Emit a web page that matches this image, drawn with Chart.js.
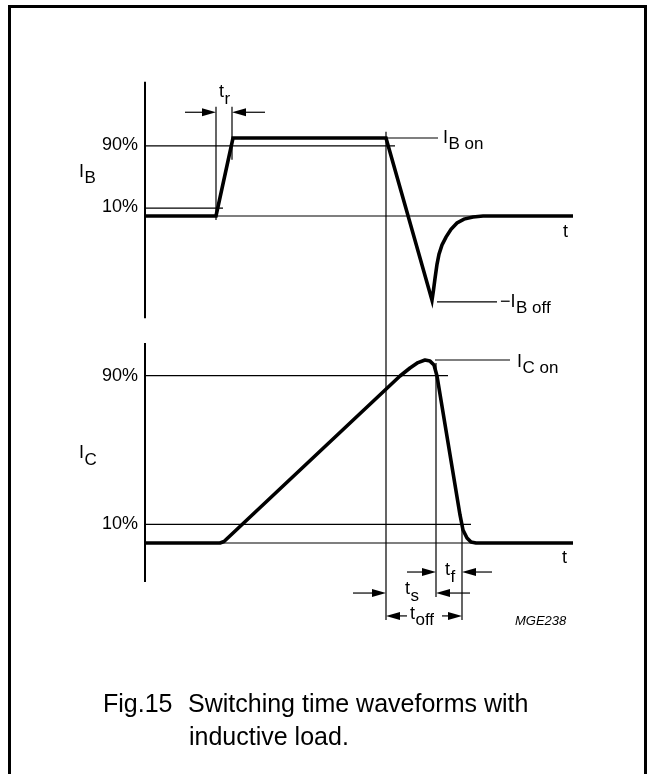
<!DOCTYPE html>
<html>
<head>
<meta charset="utf-8">
<script src="https://cdn.jsdelivr.net/npm/chart.js@4.4.1/dist/chart.umd.min.js"></script>
<style>
  body { margin: 0; background: #fff; }
  #frame { position: absolute; left: 8px; top: 5px; width: 633px; height: 800px; border: 3px solid #000; border-bottom: none; }
  #wrap { position: absolute; left: 0; top: 0; width: 648px; height: 774px; }
  #wave { display: block; }
  .cap { position: absolute; font-family: "Liberation Sans", Arial, sans-serif; font-size: 25px; line-height: 25px; color: #000; white-space: pre; }
</style>
</head>
<body>
<div id="frame"></div>
<div id="wrap"><canvas id="wave" width="648" height="774"></canvas></div>
<div class="cap" style="left:103px; top:691px;">Fig.15</div>
<div class="cap" style="left:188px; top:691px;">Switching time waveforms with</div>
<div class="cap" style="left:189px; top:724px;">inductive load.</div>
<script>
// waveforms, time in arbitrary units, level in % of the on value
var ibTime  = [0, 7.1, 8.8, 24.1, 28.7, 28.85, 29.0, 29.2, 29.4, 29.7, 30.1, 30.6, 31.2, 31.9, 32.8, 33.8, 42.8];
var ibLevel = [0, 0, 100, 100, -108, -95, -80, -62, -49, -37, -27, -17, -9, -4, -1.3, 0, 0];
var icTime  = [0, 7.5, 7.9, 25.5, 26.5, 27.3, 28.0, 28.5, 28.9, 29.2, 31.5, 31.8, 32.2, 32.6, 33.1, 42.8];
var icLevel = [0, 0, 0.8, 89.8, 94.1, 97.0, 98.4, 97.8, 95.7, 89.8, 15.1, 7.0, 2.7, 0.5, 0, 0];
var tEnd = 42.8;

// 90% / 10% reference levels and where their thin lines stop
var levelLabels = ['90%', '10%'];
var levelValues = [90, 10];
var ibLevelEnd = [25.0, 7.8];
var icLevelEnd = [30.3, 32.6];

// axis extents in %
var ibAxis = [172, -131];
var icAxis = [107.5, -21];

// vertical timing marks [time, from %, to %]
var ibMarks = [[7.1, 140, -5], [8.7, 140, 72]];
var icMarks = [[29.1, 96.8, -29], [31.7, 10.8, -41.4]];
var offMark = [24.1, 108, -41.4]; // from IB % down to IC %

// arrows [level %, tail time, tip time]
var ibArrows = [[133, 4.0, 7.1], [133, 12.0, 8.7]];
var icArrows = [[-15.6, 26.2, 29.1], [-15.6, 34.7, 31.7], [-26.9, 20.8, 24.1], [-26.9, 32.5, 29.1], [-39.2, 26.2, 24.1], [-39.2, 29.7, 31.7]];

// leader lines [level %, from time, to time]
var ibLeaders = [[100, 24.2, 29.3], [-110, 29.2, 35.2]];
var icLeaders = [[98.4, 29.0, 36.5]];

function pts(ts, vs) {
  return ts.map(function(t, i) { return {x: t, y: vs[i]}; });
}

function thin(data, axis) {
  return { data: data, yAxisID: axis, showLine: true, borderColor: '#000', borderWidth: 1.2, pointRadius: 0 };
}

var datasets = [
  { label: 'IB', data: pts(ibTime, ibLevel), yAxisID: 'yB', showLine: true, borderColor: '#000', borderWidth: 3.6, pointRadius: 0, borderJoinStyle: 'miter' },
  { label: 'IC', data: pts(icTime, icLevel), yAxisID: 'yC', showLine: true, borderColor: '#000', borderWidth: 3.6, pointRadius: 0, borderJoinStyle: 'round' },
  thin([{x: 0, y: 0}, {x: tEnd, y: 0}], 'yB'),
  thin([{x: 0, y: 0}, {x: tEnd, y: 0}], 'yC')
];
levelValues.forEach(function(v, i) {
  datasets.push(thin([{x: 0, y: v}, {x: ibLevelEnd[i], y: v}], 'yB'));
  datasets.push(thin([{x: 0, y: v}, {x: icLevelEnd[i], y: v}], 'yC'));
});

var FONT = '"Liberation Sans", Arial, sans-serif';

function label(ctx, main, subTxt, px, py, drop) {
  ctx.font = '18px ' + FONT;
  ctx.fillText(main, px, py);
  if (subTxt) {
    var w = ctx.measureText(main).width;
    ctx.font = '17px ' + FONT;
    ctx.fillText(subTxt, px + w + 0.5, py + drop);
  }
}

function arrow(ctx, tail, tip, py) {
  var dir = tip > tail ? 1 : -1;
  ctx.beginPath();
  ctx.moveTo(tail, py);
  ctx.lineTo(tip - dir * 10, py);
  ctx.stroke();
  ctx.beginPath();
  ctx.moveTo(tip, py);
  ctx.lineTo(tip - dir * 14, py - 4);
  ctx.lineTo(tip - dir * 14, py + 4);
  ctx.closePath();
  ctx.fill();
}

var figPlugin = {
  id: 'figLabels',
  afterDatasetsDraw: function(chart) {
    var ctx = chart.ctx;
    var x = chart.scales.x, yB = chart.scales.yB, yC = chart.scales.yC;
    ctx.save();
    ctx.strokeStyle = '#000';
    ctx.fillStyle = '#000';

    // axis lines
    ctx.lineWidth = 2;
    ctx.beginPath();
    ctx.moveTo(x.getPixelForValue(0), yB.getPixelForValue(ibAxis[0]));
    ctx.lineTo(x.getPixelForValue(0), yB.getPixelForValue(ibAxis[1]));
    ctx.moveTo(x.getPixelForValue(0), yC.getPixelForValue(icAxis[0]));
    ctx.lineTo(x.getPixelForValue(0), yC.getPixelForValue(icAxis[1]));
    ctx.stroke();

    // timing marks and leaders
    ctx.lineWidth = 1.2;
    ctx.beginPath();
    ibMarks.forEach(function(m) {
      ctx.moveTo(x.getPixelForValue(m[0]), yB.getPixelForValue(m[1]));
      ctx.lineTo(x.getPixelForValue(m[0]), yB.getPixelForValue(m[2]));
    });
    icMarks.forEach(function(m) {
      ctx.moveTo(x.getPixelForValue(m[0]), yC.getPixelForValue(m[1]));
      ctx.lineTo(x.getPixelForValue(m[0]), yC.getPixelForValue(m[2]));
    });
    ctx.moveTo(x.getPixelForValue(offMark[0]), yB.getPixelForValue(offMark[1]));
    ctx.lineTo(x.getPixelForValue(offMark[0]), yC.getPixelForValue(offMark[2]));
    ibLeaders.forEach(function(l) {
      ctx.moveTo(x.getPixelForValue(l[1]), yB.getPixelForValue(l[0]));
      ctx.lineTo(x.getPixelForValue(l[2]), yB.getPixelForValue(l[0]));
    });
    icLeaders.forEach(function(l) {
      ctx.moveTo(x.getPixelForValue(l[1]), yC.getPixelForValue(l[0]));
      ctx.lineTo(x.getPixelForValue(l[2]), yC.getPixelForValue(l[0]));
    });
    ctx.stroke();

    ibArrows.forEach(function(a) {
      arrow(ctx, x.getPixelForValue(a[1]), x.getPixelForValue(a[2]), yB.getPixelForValue(a[0]));
    });
    icArrows.forEach(function(a) {
      arrow(ctx, x.getPixelForValue(a[1]), x.getPixelForValue(a[2]), yC.getPixelForValue(a[0]));
    });

    // level labels
    ctx.textAlign = 'right';
    ctx.font = '18px ' + FONT;
    levelValues.forEach(function(v, i) {
      ctx.fillText(levelLabels[i], x.getPixelForValue(-0.7), yB.getPixelForValue(v) + 4);
      ctx.fillText(levelLabels[i], x.getPixelForValue(-0.7), yC.getPixelForValue(v) + 5);
    });

    ctx.textAlign = 'left';
    label(ctx, 'I', 'B', x.getPixelForValue(-6.6), yB.getPixelForValue(50), 6);
    label(ctx, 'I', 'C', x.getPixelForValue(-6.6), yC.getPixelForValue(45.7), 7);
    label(ctx, 't', 'r', x.getPixelForValue(7.4), yB.getPixelForValue(152.6), 7);
    label(ctx, 'I', 'B on', x.getPixelForValue(29.8), yB.getPixelForValue(93.6), 6);
    label(ctx, '\u2212I', 'B off', x.getPixelForValue(35.5), yB.getPixelForValue(-116.7), 6);
    label(ctx, 't', null, x.getPixelForValue(41.8), yB.getPixelForValue(-27), 0);
    label(ctx, 'I', 'C on', x.getPixelForValue(37.2), yC.getPixelForValue(94.6), 6);
    label(ctx, 't', null, x.getPixelForValue(41.7), yC.getPixelForValue(-10.8), 0);
    label(ctx, 't', 'f', x.getPixelForValue(30.0), yC.getPixelForValue(-17.2), 7);
    label(ctx, 't', 's', x.getPixelForValue(26.0), yC.getPixelForValue(-27.4), 7);
    label(ctx, 't', 'off', x.getPixelForValue(26.5), yC.getPixelForValue(-40.9), 6);

    ctx.font = 'italic 13px ' + FONT;
    ctx.fillText('MGE238', x.getPixelForValue(37.0), yC.getPixelForValue(-44.1));
    ctx.restore();
  }
};

var ctx = document.getElementById('wave');
var waveChart = new Chart(ctx, {
  type: 'scatter',
  data: { datasets: datasets },
  options: {
    responsive: false,
    animation: false,
    events: [],
    layout: { padding: 0, autoPadding: false },
    plugins: { legend: { display: false }, tooltip: { enabled: false } },
    scales: {
      x:  { type: 'linear', display: false, min: -14.5, max: 50.3 },
      yB: { type: 'linear', axis: 'y', display: false, min: -715.38, max: 276.92 },
      yC: { type: 'linear', axis: 'y', display: false, min: -124.19, max: 291.94 }
    }
  },
  plugins: [figPlugin]
});
</script>
</body>
</html>
